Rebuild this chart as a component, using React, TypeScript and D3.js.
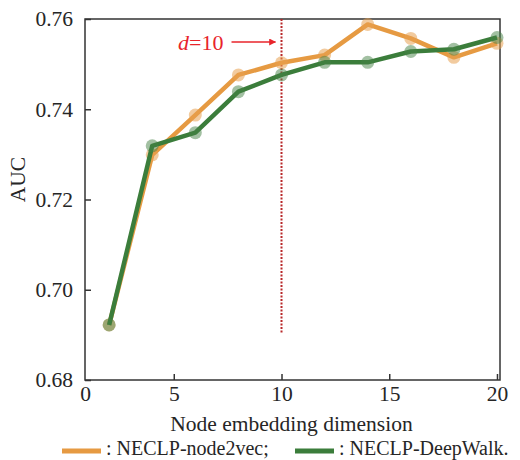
import React, { useRef, useEffect } from 'react'
import * as d3 from 'd3'

const dims = [2, 4, 6, 8, 10, 12, 14, 16, 18, 20]
const node2vec = [0.6922, 0.7299, 0.7387, 0.7476, 0.7503, 0.752, 0.7588, 0.7557, 0.7515, 0.7546]
const deepWalk = [0.6922, 0.7319, 0.7348, 0.7439, 0.7476, 0.7504, 0.7504, 0.7528, 0.7533, 0.7559]
const yTicks = [0.68, 0.7, 0.72, 0.74, 0.76]
const xTicks = [0.88, 5, 10, 15, 20]
const markedDim = 10

const FONT = '"Liberation Serif", "Times New Roman", serif'

const App = () => {
  const ref = useRef<SVGSVGElement>(null)
  const width = 520
  const height = 460

  useEffect(() => {
    const svg = d3.select(ref.current)
    svg.selectAll('*').remove()

    const margin = { top: 19, right: 20, bottom: 80, left: 85 }
    const innerWidth = width - margin.left - margin.right
    const innerHeight = height - margin.top - margin.bottom

    const x = d3.scaleLinear().domain([0.88, 20.14]).range([0, innerWidth])
    const y = d3.scaleLinear().domain([0.68, 0.76]).range([innerHeight, 0])

    const g = svg.append('g').attr('transform', `translate(${margin.left},${margin.top})`)

    // frame
    g.append('rect')
      .attr('width', innerWidth)
      .attr('height', innerHeight)
      .attr('fill', 'none')
      .attr('stroke', '#333')
      .attr('stroke-width', 1.5)

    const yAxis = d3.axisLeft(y).tickValues(yTicks).tickSize(-6).tickPadding(12)
      .tickFormat(d => d3.format('.2f')(d as number))
    const yAxisG = g.append('g').call(yAxis)
    yAxisG.select('.domain').remove()
    yAxisG.selectAll('line').attr('stroke', '#333').attr('stroke-width', 1.5)
    yAxisG.selectAll('text').attr('font-family', FONT).attr('font-size', 21.5).attr('fill', '#262626')

    const xAxis = d3.axisBottom(x).tickValues(xTicks).tickSize(-6).tickPadding(6)
      .tickFormat(d => ((d as number) < 1 ? '0' : String(d)))
    const xAxisG = g.append('g').attr('transform', `translate(0,${innerHeight})`).call(xAxis)
    xAxisG.select('.domain').remove()
    xAxisG.selectAll('line').attr('stroke', '#333').attr('stroke-width', 1.5)
    xAxisG.selectAll('line').filter((d: any) => d < 1).remove()
    xAxisG.selectAll('text').attr('font-family', FONT).attr('font-size', 21.5).attr('fill', '#262626')

    g.append('text')
      .attr('x', innerWidth / 2 - 1)
      .attr('y', innerHeight + 51)
      .attr('text-anchor', 'middle')
      .attr('font-family', FONT)
      .attr('font-size', 21.5)
      .attr('fill', '#262626')
      .text('Node embedding dimension')

    g.append('text')
      .attr('transform', `rotate(-90)`)
      .attr('x', -innerHeight / 2 + 20)
      .attr('y', -60)
      .attr('text-anchor', 'middle')
      .attr('font-family', FONT)
      .attr('font-size', 21.5)
      .attr('fill', '#262626')
      .text('AUC')

    // marker line at d=10
    g.append('line')
      .attr('x1', x(markedDim)).attr('x2', x(markedDim))
      .attr('y1', 0).attr('y2', y(0.6903))
      .attr('stroke', '#b8282a')
      .attr('stroke-width', 2)
      .attr('stroke-dasharray', '2,1.5')

    const defs = svg.append('defs')
    defs.append('marker')
      .attr('id', 'arrow')
      .attr('viewBox', '0 0 10 10')
      .attr('refX', 9).attr('refY', 5)
      .attr('markerWidth', 7).attr('markerHeight', 7)
      .attr('markerUnits', 'userSpaceOnUse')
      .attr('orient', 'auto')
      .append('path')
      .attr('d', 'M0,0L10,5L0,10z')
      .attr('fill', '#e8242b')

    g.append('line')
      .attr('x1', x(markedDim) - 50).attr('x2', x(markedDim) - 6)
      .attr('y1', 23).attr('y2', 23)
      .attr('stroke', '#e8242b')
      .attr('stroke-width', 1.5)
      .attr('marker-end', 'url(#arrow)')

    const lab = g.append('text')
      .attr('x', x(markedDim) - 58)
      .attr('y', 31)
      .attr('text-anchor', 'end')
      .attr('font-family', FONT)
      .attr('font-size', 22)
      .attr('fill', '#e8242b')
    lab.append('tspan').attr('font-style', 'italic').text('d')
    lab.append('tspan').text('=10')

    const series = [
      { values: node2vec, color: '#e69a42', dot: 'rgba(232,160,80,0.55)' },
      { values: deepWalk, color: '#3b7d3b', dot: 'rgba(70,130,70,0.5)' },
    ]

    const lineGen = d3.line<number>()
      .x((_, i) => x(dims[i]))
      .y(d => y(d))

    series.forEach(s => {
      g.append('path')
        .attr('d', lineGen(s.values))
        .attr('fill', 'none')
        .attr('stroke', s.color)
        .attr('stroke-width', 4.5)
        .attr('stroke-linejoin', 'round')
      g.selectAll(null)
        .data(s.values)
        .enter()
        .append('circle')
        .attr('cx', (_, i) => x(dims[i]))
        .attr('cy', d => y(d))
        .attr('r', 6.5)
        .attr('fill', s.dot)
    })

    // legend
    const legend = svg.append('g').attr('transform', `translate(0,451)`)
    const items = [
      { label: ': NECLP-node2vec;', color: '#e69a42', x0: 62 },
      { label: ': NECLP-DeepWalk.', color: '#3b7d3b', x0: 295 },
    ]
    items.forEach(it => {
      legend.append('line')
        .attr('x1', it.x0).attr('x2', it.x0 + 39)
        .attr('y1', 0).attr('y2', 0)
        .attr('stroke', it.color)
        .attr('stroke-width', 5)
      legend.append('text')
        .attr('x', it.x0 + 44)
        .attr('y', 4)
        .attr('font-family', FONT)
        .attr('font-size', 20)
        .attr('fill', '#262626')
        .text(it.label)
    })
  }, [])

  return (
    <svg ref={ref} width={width} height={height} style={{ position: 'absolute', left: 0, top: 0 }} />
  )
}

export default App
